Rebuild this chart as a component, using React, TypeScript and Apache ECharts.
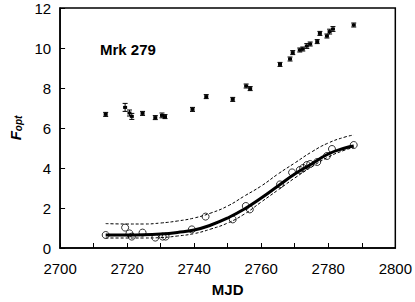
import React, { useEffect, useRef } from "react";
import * as echarts from "echarts";

const upperMJD = [2713.6, 2719.4, 2720.7, 2721.4, 2724.6, 2728.4, 2730.4, 2731.3, 2739.5, 2743.6, 2751.5, 2755.5, 2756.7, 2765.6, 2768.6, 2769.4, 2771.5, 2772.4, 2773.6, 2774.6, 2776.7, 2777.5, 2779.6, 2780.4, 2781.4, 2787.6];
const upperFlux = [6.68, 7.03, 6.75, 6.58, 6.73, 6.52, 6.63, 6.57, 6.93, 7.57, 7.43, 8.1, 7.97, 9.18, 9.45, 9.77, 9.9, 9.95, 10.1, 10.2, 10.32, 10.73, 10.6, 10.82, 10.95, 11.15];
const upperErr = [0.1, 0.2, 0.15, 0.15, 0.1, 0.1, 0.12, 0.1, 0.1, 0.1, 0.1, 0.1, 0.1, 0.1, 0.1, 0.1, 0.1, 0.1, 0.12, 0.1, 0.1, 0.1, 0.1, 0.12, 0.12, 0.1];

const lowerMJD = [2713.6, 2719.4, 2720.7, 2721.4, 2724.6, 2728.4, 2730.6, 2731.5, 2739.3, 2743.4, 2751.5, 2755.4, 2756.6, 2765.6, 2769.2, 2771.5, 2772.5, 2773.6, 2774.6, 2776.7, 2779.6, 2781.1, 2787.6];
const lowerFlux = [0.65, 1.02, 0.73, 0.57, 0.77, 0.52, 0.57, 0.57, 0.93, 1.57, 1.43, 2.1, 1.93, 3.18, 3.78, 3.9, 4.0, 4.15, 4.2, 4.3, 4.6, 4.95, 5.15];

const fitMJD = [2713.6, 2720, 2725, 2730, 2735, 2740, 2745, 2750, 2755, 2760, 2765, 2770, 2775, 2780, 2785, 2787.6];
const fitMid = [0.65, 0.65, 0.66, 0.7, 0.78, 0.9, 1.15, 1.5, 1.95, 2.5, 3.1, 3.7, 4.2, 4.7, 5.0, 5.1];
const fitUpper = [1.22, 1.2, 1.2, 1.25, 1.35, 1.5, 1.75, 2.1, 2.6, 3.1, 3.7, 4.25, 4.8, 5.25, 5.55, 5.65];
const fitLower = [0.5, 0.5, 0.5, 0.52, 0.6, 0.72, 0.95, 1.25, 1.7, 2.3, 2.9, 3.5, 4.05, 4.55, 4.9, 5.02];

const xTicks = [2700, 2800, 20];
const yTicks = [0, 12, 2];

const FONT = "Liberation Sans, Arial, sans-serif";

export default function App() {
  const ref = useRef<HTMLDivElement>(null);
  useEffect(() => {
    if (!ref.current) return;
    const chart = echarts.init(ref.current, null, { renderer: "svg" });
    const pair = (xs: number[], ys: number[]) => xs.map((x, i) => [x, ys[i]]);
    const errData = upperMJD.map((x, i) => [x, upperFlux[i], upperErr[i]]);
    chart.setOption({
      animation: false,
      backgroundColor: "#fff",
      grid: { left: 53, right: 17, top: 8, bottom: 54, show: true, borderColor: "#000", borderWidth: 1.5 },
      title: {
        text: "Mrk 279",
        left: 95,
        top: 37,
        textStyle: { fontFamily: FONT, fontSize: 15, fontWeight: "bold", color: "#000" },
      },
      xAxis: {
        type: "value",
        min: xTicks[0],
        max: xTicks[1],
        interval: xTicks[2],
        name: "MJD",
        nameLocation: "middle",
        nameGap: 34,
        nameTextStyle: { fontFamily: FONT, fontSize: 15, fontWeight: "bold", color: "#000" },
        axisLine: { lineStyle: { color: "#000", width: 1.5 } },
        axisTick: { inside: true, length: 5, lineStyle: { color: "#000", width: 1 } },
        minorTick: { show: true, splitNumber: 2, length: 5, lineStyle: { color: "#000", width: 1 } },
        axisLabel: { fontFamily: FONT, fontSize: 15, color: "#000", margin: 13, formatter: (v: number) => String(v) },
        splitLine: { show: false },
      },
      yAxis: {
        type: "value",
        min: yTicks[0],
        max: yTicks[1],
        interval: yTicks[2],
        name: "{f|F}{s|opt}",
        nameLocation: "middle",
        nameGap: 32,
        nameRotate: 90,
        nameTextStyle: {
          rich: {
            f: { fontFamily: FONT, fontSize: 15, fontWeight: "bold", fontStyle: "italic", color: "#000" },
            s: { fontFamily: FONT, fontSize: 10, fontWeight: "bold", fontStyle: "italic", color: "#000", verticalAlign: "bottom", padding: [6, 0, 0, 0] },
          },
        },
        axisLine: { lineStyle: { color: "#000", width: 1.5 } },
        axisTick: { inside: true, length: 5, lineStyle: { color: "#000", width: 1 } },
        axisLabel: { fontFamily: FONT, fontSize: 15, color: "#000", margin: 9, formatter: (v: number) => String(v) },
        splitLine: { show: false },
      },
      series: [
        {
          type: "line",
          data: pair(fitMJD, fitUpper),
          smooth: true,
          symbol: "none",
          lineStyle: { color: "#000", width: 1, type: [3, 2] },
        },
        {
          type: "line",
          data: pair(fitMJD, fitLower),
          smooth: true,
          symbol: "none",
          lineStyle: { color: "#000", width: 1, type: [3, 2] },
        },
        {
          type: "line",
          data: pair(fitMJD, fitMid),
          smooth: true,
          symbol: "none",
          lineStyle: { color: "#000", width: 3 },
        },
        {
          type: "scatter",
          data: pair(lowerMJD, lowerFlux),
          symbol: "circle",
          symbolSize: 7,
          itemStyle: { color: "rgba(255,255,255,0)", borderColor: "#000", borderWidth: 1 },
        },
        {
          type: "custom",
          data: errData,
          renderItem: (params: any, api: any) => {
            const x = api.value(0);
            const y = api.value(1);
            const e = api.value(2);
            const c = api.coord([x, y]);
            const t = api.coord([x, y + e]);
            const b = api.coord([x, y - e]);
            const cap = 2.5;
            const st = { stroke: "#000", lineWidth: 1 };
            return {
              type: "group",
              children: [
                { type: "line", shape: { x1: c[0], y1: t[1], x2: c[0], y2: b[1] }, style: st },
                { type: "line", shape: { x1: c[0] - cap, y1: t[1], x2: c[0] + cap, y2: t[1] }, style: st },
                { type: "line", shape: { x1: c[0] - cap, y1: b[1], x2: c[0] + cap, y2: b[1] }, style: st },
                { type: "rect", shape: { x: c[0] - 2, y: c[1] - 1.5, width: 4, height: 3 }, style: { fill: "#000" } },
              ],
            };
          },
        },
      ],
    });
    return () => chart.dispose();
  }, []);
  return <div ref={ref} style={{ position: "absolute", left: 0, top: 0, width: 415, height: 302 }} />;
}
